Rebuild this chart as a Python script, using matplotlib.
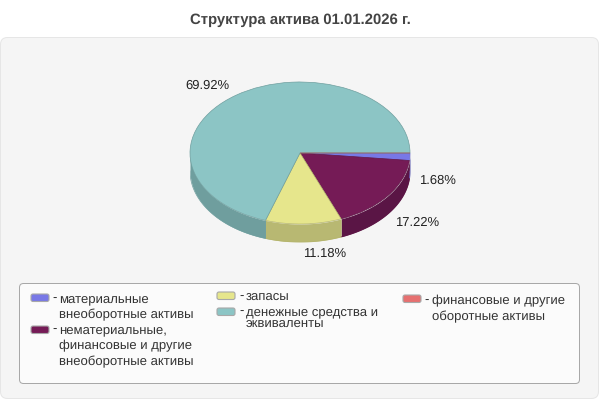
import numpy as np
import matplotlib
matplotlib.use('Agg')
from matplotlib import pyplot as plt
from matplotlib.patches import FancyBboxPatch

plt.rcParams['font.family'] = ['Liberation Sans', 'DejaVu Sans']
plt.rcParams['text.hinting'] = 'none'

title = 'Структура актива 01.01.2026 г.'

# clockwise from 3 o'clock, same order as the legend
values = [1.68, 17.22, 11.18, 69.92, 0.0]
top_colors = ['#7878e6', '#751b56', '#e6e68c', '#8cc5c5', '#e67070']
side_colors = ['#5c5cb0', '#5a1545', '#b8b872', '#6f9e9e', '#b05656']
edge_colors = ['#6a6ad0', '#5f1646', '#b5b56e', '#6f9f9f', '#b04a4a']

legend_labels = [
    ['материальные', 'внеоборотные активы'],
    ['нематериальные,', 'финансовые и другие', 'внеоборотные активы'],
    ['запасы'],
    ['денежные средства и', 'эквиваленты'],
    ['финансовые и другие', 'оборотные активы'],
]

W, H = 600, 400
fig = plt.figure(figsize=(W / 100, H / 100), dpi=100, facecolor='white')

# full figure axes in pixel coords, y goes down
bg = fig.add_axes([0, 0, 1, 1])
bg.set_xlim(0, W)
bg.set_ylim(H, 0)
bg.axis('off')


def rounded(ax, x0, y0, x1, y1, r, fc, ec, lw=0.72, z=1):
    box = FancyBboxPatch((x0 + r, y0 + r), x1 - x0 - 2 * r, y1 - y0 - 2 * r,
                         boxstyle='round,pad=%g,rounding_size=%g' % (r, r),
                         fc=fc, ec=ec, lw=lw, zorder=z)
    ax.add_patch(box)


bg.text(300, 20.5, title, ha='center', va='center', fontsize=10.7,
        fontweight='bold', color='#444444')

rounded(bg, 0.5, 37.5, 598.5, 398.5, 7, '#f5f5f5', '#e6e6e6')
rounded(bg, 19.5, 283.5, 579.5, 383.5, 4, '#fbfbfb', '#a8a8a8')

# pie box in pixels
cx, cy, rx, ry, depth = 300, 153, 110, 71, 18
pie_ax = fig.add_axes([(cx - rx) / W, 1 - (cy + ry + depth) / H,
                       2 * rx / W, (2 * ry + depth) / H])
pie_ax.patch.set_alpha(0)

wedges, _ = pie_ax.pie(values, colors=top_colors, startangle=0,
                       counterclock=False, radius=1.0, normalize=True,
                       wedgeprops={'linewidth': 0.5})
for w, ec in zip(wedges, edge_colors):
    w.set_edgecolor(ec)
    w.set_zorder(5)

# side of the pie, only the front half (lower half of the ellipse) shows
d = depth / ry
start = 0.0
for val, col, ec in zip(values, side_colors, edge_colors):
    end = start + val * 3.6
    a0, a1 = max(start, 0), min(end, 180)
    if a1 > a0:
        t = np.radians(np.linspace(a0, a1, 80))
        x = np.cos(t)
        y = -np.sin(t)
        pie_ax.fill_between(x, y, y - d, color=col, lw=0, zorder=2)
        pie_ax.plot(x, y - d, color=ec, lw=0.5, zorder=3)
    start = end
# the empty slice still leaves its red edge
pie_ax.plot([1, 1], [0, -d], color=edge_colors[4], lw=0.7, zorder=6)

pie_ax.set_aspect('auto')
pie_ax.set_xlim(-1, 1)
pie_ax.set_ylim(-1 - d, 1)

# percent labels
label_pos = [(437.5, 180.5), (417.5, 222.5), (325, 254), (207, 86)]
for val, (lx, ly) in zip(values, label_pos):
    bg.text(lx, ly, '%.2f%%' % val, ha='center', va='center', fontsize=9.4,
            color='#222222')

# legend
swatch_pos = [(31, 294), (31, 326), (217, 292), (217, 308), (403, 295)]
text_x = [59, 59, 246, 246, 432]
dash_x = [52, 52, 239, 239, 424]
line_ys = [[302, 318], [333, 349, 365], [300], [315, 327], [304, 320]]
for i, labels in enumerate(legend_labels):
    sx, sy = swatch_pos[i]
    rounded(bg, sx, sy, sx + 18, sy + 7.5, 2, top_colors[i], '#a8a8a8', lw=0.8, z=3)
    bg.text(dash_x[i], line_ys[i][0], '-', ha='left', va='baseline', fontsize=9.45,
            color='#333333')
    for line, ly in zip(labels, line_ys[i]):
        bg.text(text_x[i], ly, line, ha='left', va='baseline', fontsize=9.45,
                color='#333333')

fig.savefig('out.png', dpi=100, facecolor='white')
